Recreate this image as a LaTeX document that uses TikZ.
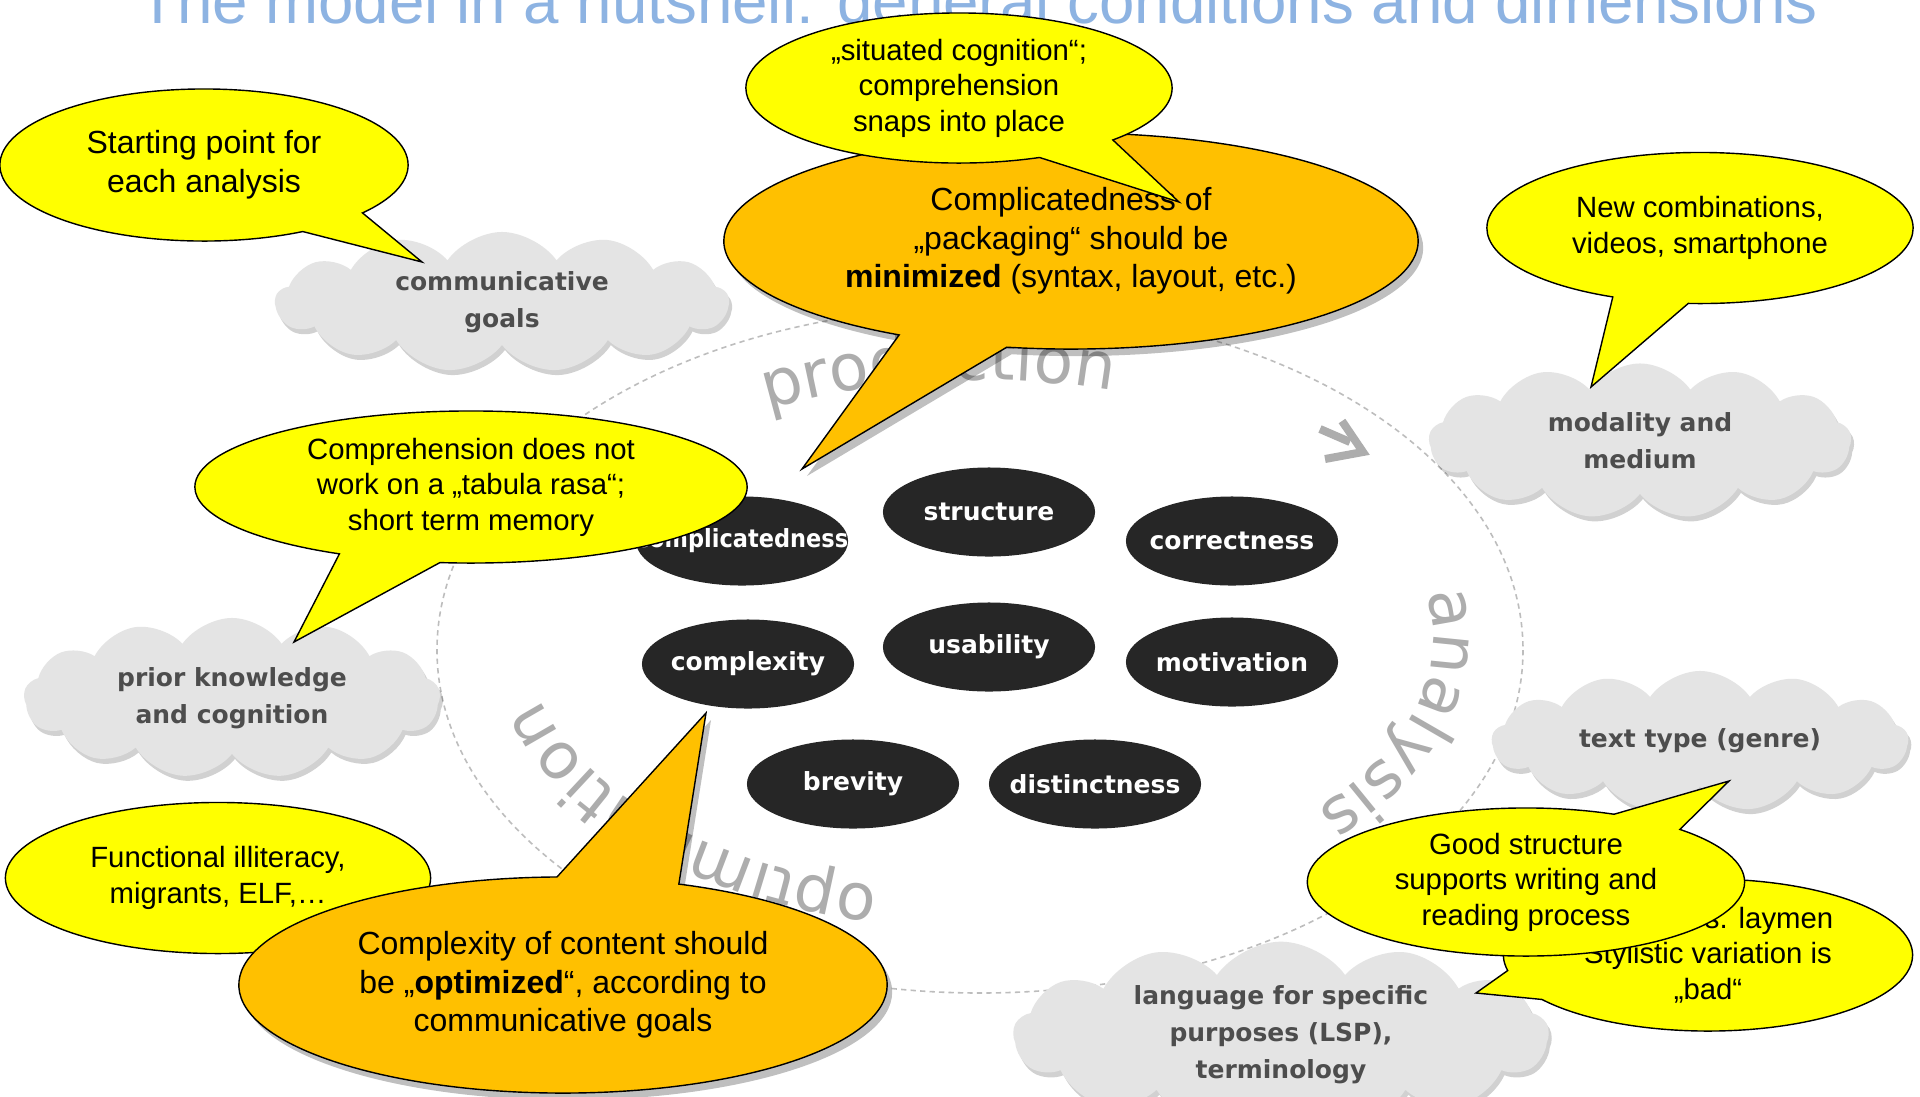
\documentclass[tikz,border=0pt]{standalone}
\usepackage{fontspec}
\setmainfont{Liberation Sans}
\newfontfamily\dejavu{DejaVu Sans}
\usetikzlibrary{shapes.geometric, shapes.symbols, shapes.callouts, shadows, decorations.text}
\definecolor{titleblue}{HTML}{8DB3E2}
\definecolor{noteyellow}{HTML}{FFFF00}
\definecolor{noteorange}{HTML}{FFC000}
\definecolor{cloudgray}{HTML}{E4E4E4}
\definecolor{cloudtext}{HTML}{4D4D4D}
\definecolor{ringgray}{HTML}{ADADAD}
\definecolor{ovalblack}{HTML}{262626}
\newcommand\ringfont{\dejavu\fontsize{18.4}{20}\selectfont}

\begin{document}
\begin{tikzpicture}[x=0.01cm, y=-0.01cm,
    cloudbox/.style={cloud, cloud puffs=13, cloud puff arc=110, cloud ignores aspect, fill=cloudgray, text=cloudtext, align=center, inner sep=0pt, font=\dejavu\bfseries\fontsize{7.1}{10.5}\selectfont, drop shadow={shadow xshift=0.03cm, shadow yshift=-0.05cm, fill=black, opacity=0.18}},
    oval/.style={ellipse, fill=ovalblack, text=white, minimum width=2.12cm, minimum height=0.89cm, inner sep=0pt, font=\dejavu\bfseries\fontsize{7.1}{8}\selectfont},
    yellownote/.style={ellipse callout, draw=black, line width=0.4pt, fill=noteyellow, align=center, inner sep=0pt, font=\fontsize{8.34}{10.1}\selectfont},
    orangenote/.style={yellownote, fill=noteorange, font=\fontsize{9.1}{11}\selectfont, drop shadow={shadow xshift=0.05cm, shadow yshift=-0.07cm, fill=black, opacity=0.25}},
    ringlabel/.style={decorate, decoration={text along path, text color=ringgray, text={|\ringfont|#1}}}
]
    \useasboundingbox (0,0) rectangle (1920,1096);
    \clip (0,0) rectangle (1920,1096);
    \fill[white] (0,0) rectangle (1920,1096);

    % Title
    \node[anchor=base, inner sep=0pt, text=titleblue, font=\fontsize{18.1}{20}\selectfont] (title) at (978,23) {The model in a nutshell: general conditions and dimensions};

    % Process ring
    \coordinate (ringc) at (980,650);
    \draw[ringgray!80, dash pattern=on 1.5pt off 1.2pt, line width=0.45pt] (ringc) ellipse [x radius=543, y radius=343];
    \coordinate (labelc) at (980,637);
    \path[ringlabel=production] ([shift={(118:4.53cm and 2.57cm)}]labelc) arc[start angle=118, end angle=20, x radius=4.53cm, y radius=2.57cm];
    \path[ringlabel=analysis] ([shift={(10:4.53cm and 2.57cm)}]labelc) arc[start angle=10, end angle=-70, x radius=4.53cm, y radius=2.57cm];
    \path[ringlabel=optimization] ([shift={(-103:4.53cm and 2.57cm)}]labelc) arc[start angle=-103, end angle=-200, x radius=4.53cm, y radius=2.57cm];
    \draw[ringgray, line width=0.08cm] (1320,429) -- (1350,442);
    \draw[ringgray, line width=0.08cm, line join=miter] (1342,421) -- (1363,452) -- (1325,459);

    % Conditions
    \node[cloudbox, minimum width=4.53cm, minimum height=1.4cm] (goals) at (502,302) {communicative\\goals};
    \node[cloudbox, minimum width=4.22cm, minimum height=1.55cm] (medium) at (1640,441) {modality and\\medium};
    \node[cloudbox, minimum width=4.16cm, minimum height=1.6cm] (prior) at (232,698) {prior knowledge\\and cognition};
    \node[cloudbox, minimum width=4.16cm, minimum height=1.4cm] (genre) at (1700,741) {text type (genre)};
    \node[cloudbox, minimum width=5.35cm, minimum height=1.6cm] (lsp) at (1281,1035) {language for specific\\purposes (LSP),\\terminology};

    % Dimensions
    \node[oval] (structure) at (989,512) {\makebox[0pt]{structure}};
    \node[oval] (complicated) at (742,541) {\makebox[0pt]{\scalebox{0.9}[1]{complicatedness}}};
    \node[oval] (correct) at (1232,541) {\makebox[0pt]{correctness}};
    \node[oval] (usability) at (989,647) {\makebox[0pt]{usability}};
    \node[oval] (complexity) at (748,664) {\makebox[0pt]{complexity}};
    \node[oval] (motivation) at (1232,662) {\makebox[0pt]{motivation}};
    \node[oval] (brevity) at (853,784) {\makebox[0pt]{brevity}};
    \node[oval] (distinct) at (1095,784) {\makebox[0pt]{distinctness}};

    % Comments
    \coordinate (tipstart) at (422,262);
    \coordinate (tipmedia) at (1591,387);
    \coordinate (tipmemory) at (294,642);
    \coordinate (tippackaging) at (802,469);
    \coordinate (tipsituated) at (1179,202);
    \coordinate (tipcontent) at (706,713);
    \coordinate (tiplaymen) at (1476,993);
    \coordinate (tipstructure) at (1729,781);

    \node[yellownote, font=\fontsize{9.1}{11}\selectfont, minimum width=4.08cm, minimum height=1.52cm, callout absolute pointer={(tipstart)}, callout pointer arc=22] (startnote) at (204,165) {Starting point for\\each analysis};
    \node[yellownote, minimum width=4.26cm, minimum height=1.51cm, callout absolute pointer={(tipmedia)}, callout pointer arc=21] (medianote) at (1700,228) {New combinations,\\videos, smartphone};
    \node[yellownote, minimum width=5.52cm, minimum height=1.52cm, callout absolute pointer={(tipmemory)}, callout pointer arc=22] (memorynote) at (471,487) {Comprehension does not\\work on a „tabula rasa“;\\short term memory};
    \node[orangenote, minimum width=6.94cm, minimum height=2.16cm, callout absolute pointer={(tippackaging)}, callout pointer arc=19] (packagingnote) at (1071,241) {Complicatedness of\\„packaging“ should be\\\textbf{minimized} (syntax, layout, etc.)};
    \node[yellownote, minimum width=4.26cm, minimum height=1.5cm, callout absolute pointer={(tipsituated)}, callout pointer arc=24] (situatednote) at (959,88) {„situated cognition“;\\comprehension\\snaps into place};
    \node[yellownote, shape=ellipse, minimum width=4.25cm, minimum height=1.51cm] (illiteracynote) at (218,878) {Functional illiteracy,\\migrants, ELF,…};
    \node[orangenote, minimum width=6.48cm, minimum height=2.16cm, callout absolute pointer={(tipcontent)}, callout pointer arc=22] (contentnote) at (563,985) {Complexity of content should\\be „\textbf{optimized}“, according to\\communicative goals};
    \node[yellownote, minimum width=4.09cm, minimum height=1.52cm, callout absolute pointer={(tiplaymen)}, callout pointer arc=24] (laymennote) at (1708,955) {Experts vs. laymen\\Stylistic variation is\\„bad“};
    \node[yellownote, minimum width=4.37cm, minimum height=1.48cm, callout absolute pointer={(tipstructure)}, callout pointer arc=21] (structurenote) at (1526,882) {Good structure\\supports writing and\\reading process};
\end{tikzpicture}
\end{document}
